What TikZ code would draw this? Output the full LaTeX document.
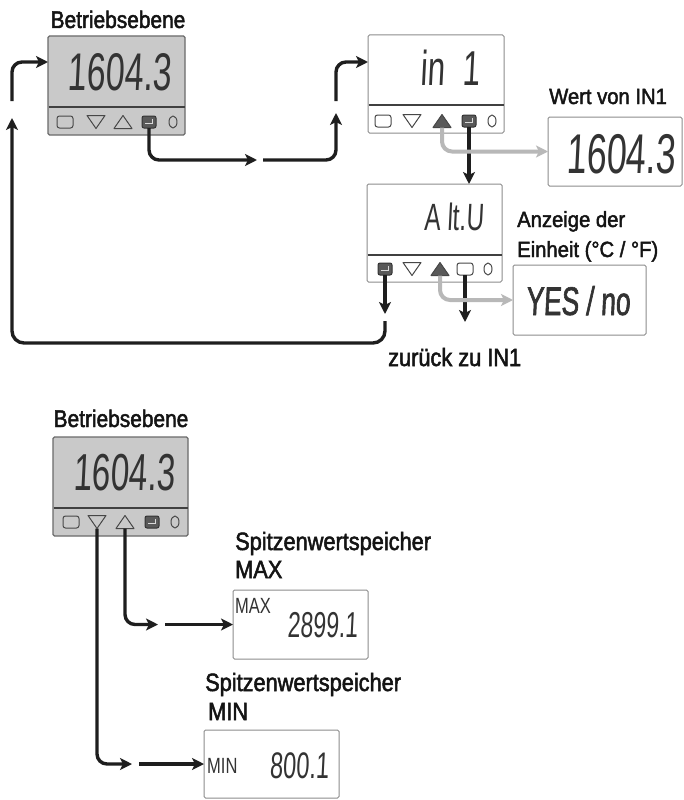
\documentclass[tikz,border=0pt]{standalone}
\usepackage{fontspec}
\setmainfont{Liberation Sans}
\newfontfamily\lblfont{Liberation Sans}[FakeStretch=0.87,FakeBold=2]
\newfontfamily\lblfontw{Liberation Sans}[FakeStretch=0.92,FakeBold=2]
\newfontfamily\segfont{Liberation Sans}[FakeStretch=0.64,FakeSlant=0.05]
\newfontfamily\segfontb{Liberation Sans}[FakeStretch=0.66,FakeSlant=0.05,FakeBold=1.5]
\newfontfamily\tagfont{Liberation Sans}[FakeStretch=0.75]
\usetikzlibrary{arrows.meta,shapes.geometric}
\definecolor{panelgray}{HTML}{C9C9C9}
\definecolor{edgegray}{HTML}{6A6A6A}
\definecolor{seggray}{HTML}{333333}
\definecolor{flowgray}{HTML}{B8B8B8}
\definecolor{keydark}{HTML}{595959}
\definecolor{flowblack}{HTML}{1E1E1E}
\tikzset{
  grayunit/.style={draw=edgegray, fill=panelgray, line width=1.1, rounded corners=1.5, inner sep=0, outer sep=0},
  whiteunit/.style={draw=black!45, fill=white, line width=1, rounded corners=1.5, inner sep=0, outer sep=0},
  sepline/.style={draw=black!75, line width=1.5},
  keyline/.style={draw=black!72, line width=1, line join=round},
  keyhold/.style={rectangle, draw=none, minimum width=18, minimum height=13, inner sep=0, outer sep=0},
  keysqs/.style={rectangle, keyline, rounded corners=2.5, minimum width=16, minimum height=12, inner sep=0, outer sep=0},
  keyents/.style={rectangle, draw=black!80, fill=keydark, line width=1, rounded corners=2, minimum width=14, minimum height=12, inner sep=0, outer sep=0},
  keycis/.style={ellipse, keyline, minimum width=8, minimum height=12, inner sep=0, outer sep=0},
  flow/.style={draw=flowblack, line width=3.4, rounded corners=10, -{Stealth[length=12pt,width=12pt,inset=3pt]}},
  gflow/.style={flow, draw=flowgray, line width=4},
  lbl/.style={font=\lblfont\fontsize{24}{26}\selectfont, inner sep=0, text=black!92},
  lblsp/.style={font=\lblfont\fontsize{25}{27}\selectfont, inner sep=0, text=black!92},
  lblw/.style={font=\lblfontw\fontsize{22}{24}\selectfont, inner sep=0, text=black!92},
  lblbig/.style={font=\lblfont\fontsize{25}{27}\selectfont, inner sep=0, text=black!92},
  segtext/.style={inner sep=0, text=seggray},
  tagtext/.style={inner sep=0, text=seggray, font=\tagfont\fontsize{22}{22}\selectfont},
}
\newcommand\keysq[4]{\node[keysqs,fill=#4] (#1) at (#2,#3) {};}
\newcommand\keyci[3]{\node[keycis] (#1) at (#2,#3) {};}
\newcommand\keydown[4]{\node[keyhold] (#1) at (#2,#3) {};
  \filldraw[keyline,fill=#4] (#1.north west) -- (#1.north east) -- (#1.south) -- cycle;}
\newcommand\keyupw[4]{\node[keyhold] (#1) at (#2,#3) {};
  \filldraw[keyline,fill=#4] (#1.south west) -- (#1.south east) -- (#1.north) -- cycle;}
\newcommand\keyent[3]{\node[keyents] (#1) at (#2,#3) {};
  \draw[black!15, line width=0.9] ([xshift=3.5pt,yshift=3pt]#1.center) -- ([xshift=3.5pt,yshift=-1.5pt]#1.center) -- ([xshift=-4pt,yshift=-1.5pt]#1.center);}
\begin{document}
\begin{tikzpicture}[x=1pt,y=-1pt]
\fill[white] (0,0) rectangle (683,800);
\useasboundingbox (0,0) rectangle (683,800);

% ---------- Panel A (Betriebsebene, top) ----------
\node[lbl, anchor=base] (A-title) at (118,28) {Betriebsebene};
\node[grayunit, anchor=north west, minimum width=137, minimum height=99] (A) at (48,36) {};
\draw[sepline] (48.5,107) -- (184.5,107);
\node[segtext, font=\segfont\fontsize{53}{53}\selectfont, anchor=base] (A-val) at (119.5,90) {1604.3};
\keysq{A-sq}{65}{122}{none}
\keydown{A-dn}{96}{122}{none}
\keyupw{A-up}{123}{122}{none}
\keyent{A-ent}{149}{122}
\keyci{A-ci}{173}{122}

% ---------- Panel B (in 1) ----------
\node[whiteunit, anchor=north west, minimum width=136, minimum height=98] (B) at (368,35) {};
\draw[sepline] (368.5,105) -- (503.5,105);
\node[segtext, font=\segfont\fontsize{49}{49}\selectfont, anchor=base east] (B-val) at (480,85) {in\hspace{0.35em}1};
\keysq{B-sq}{383}{121}{none}
\keydown{B-dn}{412}{121}{none}
\keyupw{B-up}{442}{121}{keydark}
\keyent{B-ent}{469}{121}
\keyci{B-ci}{492}{121}

% ---------- Wert von IN1 ----------
\node[lblw, anchor=base west] (D-title) at (549,104) {Wert von IN1};
\node[whiteunit, anchor=north west, minimum width=134, minimum height=69] (D) at (548,117) {};
\node[segtext, font=\segfont\fontsize{56}{56}\selectfont, anchor=base] (D-val) at (621,173) {1604.3};

% ---------- Panel C (A lt.U) ----------
\node[whiteunit, anchor=north west, minimum width=135, minimum height=98] (C) at (367,184) {};
\draw[sepline] (367.5,255) -- (501.5,255);
\node[segtext, font=\segfont\fontsize{38}{38}\selectfont, anchor=base east] (C-val) at (484,230) {A lt.U};
\keyent{C-ent}{385}{269}
\keydown{C-dn}{412}{269}{none}
\keyupw{C-up}{440}{269}{keydark}
\keysq{C-sq}{465}{269}{none}
\keyci{C-ci}{488}{269}

% ---------- Anzeige der Einheit ----------
\node[lblw, anchor=base west] (E-t1) at (517,227) {Anzeige der};
\node[lblw, anchor=base west] (E-t2) at (517,257) {Einheit (°C / °F)};
\node[whiteunit, anchor=north west, minimum width=133, minimum height=70] (E) at (513,265) {};
\node[segtext, font=\segfontb\fontsize{40}{40}\selectfont, anchor=base] (E-val) at (578,315) {YES / no};

\node[lblbig, anchor=base west] (back) at (388,366) {zurück zu IN1};

% ---------- Panel F (Betriebsebene, bottom) ----------
\node[lbl, anchor=base] (F-title) at (121,427) {Betriebsebene};
\node[grayunit, anchor=north west, minimum width=135, minimum height=99] (F) at (53,437) {};
\draw[sepline] (53.5,508) -- (187.5,508);
\node[segtext, font=\segfont\fontsize{52}{52}\selectfont, anchor=base] (F-val) at (124,490) {1604.3};
\keysq{F-sq}{71}{522}{none}
\keydown{F-dn}{97}{522}{none}
\keyupw{F-up}{125}{522}{none}
\keyent{F-ent}{152}{522}
\keyci{F-ci}{175}{522}

% ---------- MAX ----------
\node[lblsp, anchor=base west] (MAX-t1) at (235,550) {Spitzenwertspeicher};
\node[lblsp, anchor=base west] (MAX-t2) at (235,578) {MAX};
\node[whiteunit, anchor=north west, minimum width=135, minimum height=69] (MAX) at (233,590) {};
\node[tagtext, anchor=base west] (MAX-tag) at (235,613) {MAX};
\node[segtext, font=\segfont\fontsize{36}{36}\selectfont, anchor=base east] (MAX-val) at (358,637) {2899.1};

% ---------- MIN ----------
\node[lblsp, anchor=base west] (MIN-t1) at (205,691) {Spitzenwertspeicher};
\node[lblsp, anchor=base west] (MIN-t2) at (208,720) {MIN};
\node[whiteunit, anchor=north west, minimum width=135, minimum height=68] (MIN) at (204,730) {};
\node[tagtext, anchor=base west] (MIN-tag) at (207,773) {MIN};
\node[segtext, font=\segfont\fontsize{37}{37}\selectfont, anchor=base east] (MIN-val) at (329,778) {800.1};

% ---------- connectors ----------
\coordinate (c1) at (257,160);
\coordinate (c2) at (263,160);
\coordinate (c3) at (336,113);
\coordinate (c4) at (336,101);
\coordinate (bin) at (368,62);
\draw[flow] (A-ent.south) |- (c1);
\draw[flow] (c2) -| (c3);
\draw[flow] (c4) |- (bin);

\draw[flow] (B-ent.south) -- (B-ent.south |- C.north);
\draw[gflow] (B-up.south) |- (D.west);

\coordinate (l1) at (385,314);
\coordinate (l2) at (385,321);
\coordinate (l6) at (12,343);
\coordinate (l3) at (12,118);
\coordinate (l4) at (12,101);
\coordinate (ain) at (48,62);
\draw[flow] (C-ent.south) -- (l1);
\draw[flow, rounded corners=12] (l2) |- (l6) -- (l3);
\draw[flow] (l4) |- (ain);

\coordinate (zr) at (465,322);
\draw[flow] (C-sq.south) -- (zr);
\draw[gflow] (C-up.south) |- (E.west);

\coordinate (m1) at (158,624.5);
\coordinate (m2) at (165,624.5);
\draw[flow] (F-up.south) |- (m1);
\draw[flow] (m2) -- (MAX.west);

\coordinate (n1) at (132,764);
\coordinate (n2) at (139,764);
\draw[flow] (F-dn.south) |- (n1);
\draw[flow] (n2) -- (MIN.west);
\end{tikzpicture}
\end{document}
